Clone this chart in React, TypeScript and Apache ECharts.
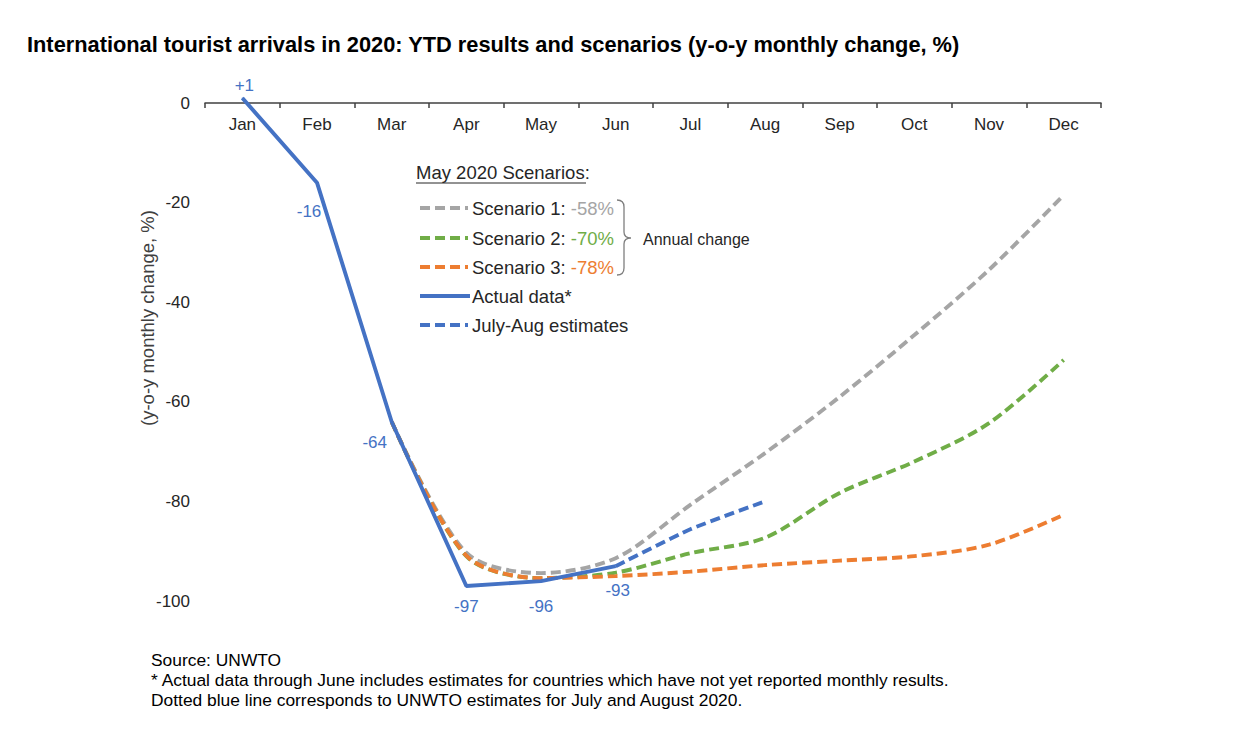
import React, { useEffect, useRef } from "react";
import * as echarts from "echarts";

// ---------- data ----------
const months = ["Jan", "Feb", "Mar", "Apr", "May", "Jun", "Jul", "Aug", "Sep", "Oct", "Nov", "Dec"];
const actualData = [1, -16, -64, -97, -96, -93, null, null, null, null, null, null];
const julyAugEstimates = [null, null, null, null, null, -93, -85.6, -80, null, null, null, null];
const scenario1 = [null, null, -64, -90.3, -94.4, -91.4, -80.7, -70.3, -59, -46.6, -33.5, -18.5];
const scenario2 = [null, null, -64, -91, -95.4, -94.3, -90.4, -87.3, -78.3, -72, -64.3, -51.6];
const scenario3 = [null, null, -64, -90.9, -95.4, -95, -94.1, -92.8, -91.9, -91, -88.7, -82.7];
const scenarioNames = ["Scenario 1: ", "Scenario 2: ", "Scenario 3: "];
const annualChange = ["-58%", "-70%", "-78%"];
const yMin = -100;
const yMax = 0;
const yStep = 20;

const titleText =
  "International tourist arrivals in 2020: YTD results and scenarios (y-o-y monthly change, %)";
const yAxisName = "(y-o-y monthly change, %)";
const footnotes = [
  "Source: UNWTO",
  "* Actual data through June includes estimates for countries which have not yet reported monthly results.",
  "Dotted blue line corresponds to UNWTO estimates for July and August 2020.",
];

// ---------- styles ----------
const FONT = "'Liberation Sans', Arial, Helvetica, sans-serif";
const BLUE = "#4472C4";
const ORANGE = "#ED7D31";
const GRAY = "#A5A5A5";
const GREEN = "#70AD47";
const TEXT = "#262626";
const DASH = [10, 5];
const LW = 3.9;
const LEG_FS = 18.5;

// label placement for actual data points (position, offset)
const actualLabelPlacement: any[] = [
  { position: "top", offset: [2, 1] },
  { position: "bottom", offset: [-8, 15] },
  { position: "bottom", offset: [-17, 7] },
  { position: "bottom", offset: [0, 6] },
  { position: "bottom", offset: [0, 11] },
  { position: "bottom", offset: [2, 10] },
];

let braceRegistered = false;

export default function App() {
  const ref = useRef<HTMLDivElement>(null);

  useEffect(() => {
    document.body.style.margin = "0";
    if (!braceRegistered) {
      echarts.graphic.registerShape(
        "brace",
        echarts.graphic.extendPath(
          "M617,200 Q624,200 624,207 L624,232 Q624,238 631,238 Q624,238 624,244 L624,268 Q624,275 617,275",
          {}
        )
      );
      braceRegistered = true;
    }
    const chart = echarts.init(ref.current!, null, { renderer: "svg" });

    const scenarioColors = [GRAY, GREEN, ORANGE];
    const rowY = [208, 238, 267, 296, 325];

    const legendGraphics: any[] = [];
    scenarioNames.forEach((name, i) => {
      legendGraphics.push({
        type: "line",
        shape: { x1: 420, y1: rowY[i], x2: 468, y2: rowY[i] },
        style: { stroke: scenarioColors[i], lineWidth: LW, lineDash: DASH },
      });
      legendGraphics.push({
        type: "text",
        x: 472,
        y: rowY[i],
        style: {
          text: `{a|${name}}{b|${annualChange[i]}}`,
          verticalAlign: "middle",
          rich: {
            a: { fontSize: LEG_FS, fontFamily: FONT, fill: TEXT, color: TEXT },
            b: { fontSize: LEG_FS, fontFamily: FONT, fill: scenarioColors[i], color: scenarioColors[i] },
          },
        },
      });
    });
    legendGraphics.push({
      type: "line",
      shape: { x1: 420, y1: rowY[3], x2: 470, y2: rowY[3] },
      style: { stroke: BLUE, lineWidth: LW },
    });
    legendGraphics.push({
      type: "text",
      x: 472,
      y: rowY[3],
      style: { text: "Actual data*", fontSize: LEG_FS, fontFamily: FONT, fill: TEXT, verticalAlign: "middle" },
    });
    legendGraphics.push({
      type: "line",
      shape: { x1: 420, y1: rowY[4], x2: 468, y2: rowY[4] },
      style: { stroke: BLUE, lineWidth: LW, lineDash: DASH },
    });
    legendGraphics.push({
      type: "text",
      x: 472,
      y: rowY[4],
      style: { text: "July-Aug estimates", fontSize: LEG_FS, fontFamily: FONT, fill: TEXT, verticalAlign: "middle" },
    });

    const option: any = {
      animation: false,
      backgroundColor: "#ffffff",
      grid: { left: 205, right: 139, top: 103, bottom: 134, containLabel: false },
      xAxis: {
        type: "category",
        data: months,
        boundaryGap: true,
        position: "top",
        axisLine: { onZero: false, lineStyle: { color: "#404040", width: 1.5 } },
        axisTick: { show: true, inside: true, length: 5, lineStyle: { color: "#404040", width: 1.5 } },
        axisLabel: { inside: true, fontSize: 17, fontFamily: FONT, color: TEXT, margin: 13 },
        splitLine: { show: false },
      },
      yAxis: {
        type: "value",
        min: yMin,
        max: yMax,
        interval: yStep,
        axisLine: { show: false },
        axisTick: { show: false },
        splitLine: { show: false },
        axisLabel: { fontSize: 17, fontFamily: FONT, color: TEXT, margin: 15 },
      },
      series: [
        {
          name: "Scenario 1",
          type: "line",
          data: scenario1,
          smooth: 0.3,
          symbol: "none",
          clip: false,
          lineStyle: { color: GRAY, width: LW, type: DASH },
        },
        {
          name: "Scenario 2",
          type: "line",
          data: scenario2,
          smooth: 0.3,
          symbol: "none",
          clip: false,
          lineStyle: { color: GREEN, width: LW, type: DASH },
        },
        {
          name: "Scenario 3",
          type: "line",
          data: scenario3,
          smooth: 0.3,
          symbol: "none",
          clip: false,
          lineStyle: { color: ORANGE, width: LW, type: DASH },
        },
        {
          name: "July-Aug estimates",
          type: "line",
          data: julyAugEstimates,
          smooth: 0.2,
          symbol: "none",
          clip: false,
          lineStyle: { color: BLUE, width: LW, type: DASH },
        },
        {
          name: "Actual data*",
          type: "line",
          clip: false,
          symbol: "circle",
          symbolSize: 1,
          showSymbol: true,
          itemStyle: { color: BLUE },
          lineStyle: { color: BLUE, width: LW },
          data: actualData.map((v, i) =>
            v === null
              ? null
              : {
                  value: v,
                  label: {
                    show: true,
                    position: actualLabelPlacement[i].position,
                    offset: actualLabelPlacement[i].offset,
                    distance: 5,
                    fontSize: 17,
                    fontFamily: FONT,
                    color: BLUE,
                    formatter: (p: any) => (p.value > 0 ? "+" + p.value : String(p.value)),
                  },
                }
          ),
        },
      ],
      graphic: [
        {
          type: "text",
          x: 27,
          y: 44,
          style: {
            text: titleText,
            fontSize: 21.8,
            fontWeight: "bold",
            fontFamily: FONT,
            fill: "#000",
            verticalAlign: "middle",
          },
        },
        {
          type: "text",
          x: 147,
          y: 318,
          rotation: Math.PI / 2,
          style: {
            text: yAxisName,
            fontSize: 18.5,
            fontFamily: FONT,
            fill: "#404040",
            align: "center",
            verticalAlign: "middle",
          },
        },
        {
          type: "text",
          x: 416,
          y: 172,
          style: { text: "May 2020 Scenarios:", fontSize: LEG_FS, fontFamily: FONT, fill: TEXT, verticalAlign: "middle" },
        },
        {
          type: "line",
          shape: { x1: 416, y1: 183, x2: 586, y2: 183 },
          style: { stroke: TEXT, lineWidth: 1 },
        },
        ...legendGraphics,
        {
          type: "brace",
          x: 0,
          y: 0,
          style: { stroke: "#7f7f7f", fill: "none", lineWidth: 1.3 },
        },
        {
          type: "text",
          x: 643,
          y: 239,
          style: { text: "Annual change", fontSize: 16, fontFamily: FONT, fill: TEXT, verticalAlign: "middle" },
        },
        ...footnotes.map((t, i) => ({
          type: "text",
          x: 151,
          y: 660 + i * 20,
          style: { text: t, fontSize: 17.4, fontFamily: FONT, fill: "#000", verticalAlign: "middle" },
        })),
      ],
    };

    chart.setOption(option);
    return () => chart.dispose();
  }, []);

  return <div ref={ref} style={{ width: 1240, height: 735 }} />;
}
